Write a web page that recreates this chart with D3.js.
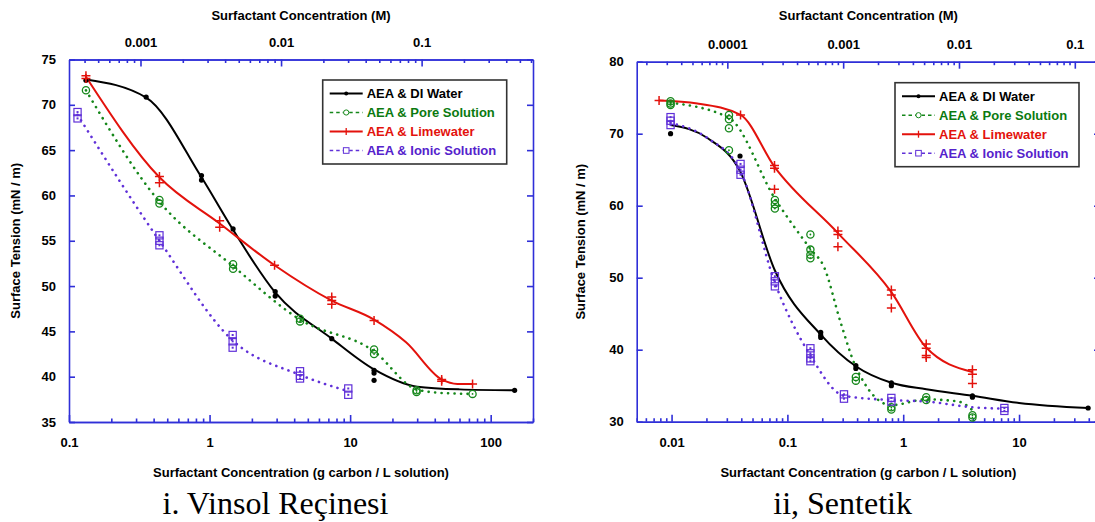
<!DOCTYPE html>
<html lang='tr'>
  <head>
    <meta charset='utf-8'>
    <title>Surface tension vs surfactant concentration</title>
    <script src='https://cdn.jsdelivr.net/npm/d3@7/dist/d3.min.js'></script>
    <style>
    body { margin: 0; background: #fff; overflow: hidden; }
    svg text { font-family: 'Liberation Sans', Arial, sans-serif; font-weight: bold; }
    .axis path, .axis line { fill: none; stroke: #2f2fd8; stroke-width: 1.6px; }
    .axis text { fill: #000; font-size: 13px; }
    .title { font-size: 13px; fill: #000; }
    .legend text { font-size: 13px; }
    .caption { font-family: 'Liberation Serif', 'Times New Roman', serif !important; font-weight: normal !important; font-size: 32px; fill: #000; }
    </style>
  </head>
  <body>
    <script>

    // legend names, shared by both panels
    var seriesNames = ['AEA & DI Water', 'AEA & Pore Solution', 'AEA & Limewater', 'AEA & Ionic Solution'];

    // ---- panel i : Vinsol resin, [g carbon / L, mN/m] ----
    var vinsolDI = [[0.132,72.7],[0.354,70.85],[0.876,62.2],[0.876,61.7],[1.47,56.3],[2.93,49.4],[2.93,48.9],
                    [7.4,44.2],[14.8,40.7],[14.8,40.4],[14.8,39.6],[148,38.5]];
    var vinsolDIFit = [[0.132,72.8],[0.354,70.8],[0.876,62.0],[1.47,56.2],[2.93,49.3],[7.4,44.2],[14.8,40.8],
                       [30,38.9],[60,38.6],[148,38.5]];
    var vinsolPore = [[0.132,71.6],[0.44,59.5],[0.44,59.1],[1.47,52.4],[1.47,51.9],[4.4,46.4],[4.4,46.1],
                      [14.8,43.0],[14.8,42.5],[29.7,38.5],[29.7,38.3],[74.3,38.1]];
    var vinsolPoreFit = [[0.132,71.6],[0.44,59.3],[1.47,52.2],[4.4,46.3],[14.8,42.8],[29.7,38.6],[45,38.2],[74.3,38.1]];
    var vinsolLime = [[0.132,73.2],[0.132,72.9],[0.44,62.1],[0.44,61.4],[1.18,57.2],[1.18,56.5],[2.9,52.3],
                      [7.4,48.8],[7.4,48.4],[7.4,48.0],[14.8,46.2],[44.8,39.7],[44.8,39.5],[74.3,39.2]];
    var vinsolLimeFit = [[0.132,73.1],[0.44,62.0],[1.18,56.9],[2.9,52.3],[7.4,48.4],[14.8,46.3],[25,43.8],
                         [44.8,39.7],[58,39.2],[74.3,39.2]];
    var vinsolIonic = [[0.115,69.2],[0.115,68.5],[0.44,55.6],[0.44,55.0],[0.44,54.5],[1.46,44.6],[1.46,43.9],
                       [1.46,43.2],[4.4,40.6],[4.4,40.1],[4.4,39.8],[9.7,38.7],[9.7,38.0]];
    var vinsolIonicFit = [[0.115,68.9],[0.44,55.0],[1.46,44.0],[4.4,40.2],[9.7,38.4]];

    // ---- panel ii : synthetic ----
    var synthDI = [[0.0098,70.0],[0.039,66.9],[0.194,42.4],[0.194,42.0],[0.194,41.7],[0.39,37.8],[0.39,37.4],
                   [0.79,35.4],[0.79,35.0],[3.96,33.6],[3.96,33.4],[39.5,31.9]];
    var synthDIFit = [[0.0098,71.2],[0.0204,69.4],[0.039,64.8],[0.078,51.0],[0.194,42.1],[0.39,37.7],
                      [0.79,35.4],[1.58,34.5],[3.96,33.6],[10,32.6],[39.5,31.9]];
    var synthPore = [[0.0098,74.5],[0.0098,74.2],[0.0098,74.0],[0.0313,72.6],[0.0313,72.0],[0.0313,70.75],
                     [0.0313,67.7],[0.078,60.8],[0.078,60.2],[0.078,59.6],[0.158,56.0],[0.158,53.9],[0.158,53.2],
                     [0.158,52.7],[0.39,36.2],[0.39,35.7],[0.79,32.0],[0.79,31.7],[1.58,33.4],[1.58,33.0],
                     [3.96,30.9],[3.96,30.6]];
    var synthPoreFit = [[0.0098,74.3],[0.0313,72.2],[0.078,61.0],[0.158,54.0],[0.207,51.5],[0.288,43.8],
                        [0.39,37.6],[0.79,32.3],[1.58,33.1],[3.0,32.8],[3.96,31.6]];
    var synthLime = [[0.0078,74.6],[0.0394,72.6],[0.0774,65.6],[0.0774,65.2],[0.0774,62.3],[0.273,56.5],
                     [0.273,56.0],[0.273,54.3],[0.79,48.3],[0.79,47.6],[0.79,45.8],[1.58,40.8],[1.58,40.2],
                     [1.58,39.2],[1.58,38.9],[3.96,37.2],[3.96,36.6],[3.96,35.3]];
    var synthLimeFit = [[0.0078,74.6],[0.0167,74.2],[0.0394,72.6],[0.0774,65.4],[0.273,56.2],[0.79,48.0],
                        [1.58,40.3],[3.96,36.9]];
    var synthIonic = [[0.0098,72.3],[0.0098,71.8],[0.0098,71.2],[0.0394,65.8],[0.0394,65.0],[0.0394,64.3],
                      [0.078,50.2],[0.078,49.5],[0.078,48.8],[0.158,40.2],[0.158,39.5],[0.158,38.8],[0.158,38.4],
                      [0.308,33.8],[0.308,33.2],[0.79,33.3],[0.79,32.8],[7.47,31.9],[7.47,31.5]];
    var synthIonicFit = [[0.0098,71.5],[0.0204,69.4],[0.0394,64.8],[0.078,49.3],[0.158,39.2],[0.308,33.6],
                         [0.79,33.0],[1.58,32.8],[4.0,32.0],[7.47,31.8]];

    // axis ticks and conversions g/L -> M
    var vinsolXMajor = [0.1, 1, 10, 100];
    var vinsolMMajor = [0.001, 0.01, 0.1];
    var vinsolYTicks = [35, 40, 45, 50, 55, 60, 65, 70, 75];
    var vinsolMolar = 0.0031;
    var synthXMajor = [0.01, 0.1, 1, 10];
    var synthMMajor = [0.0001, 0.001, 0.01, 0.1];
    var synthYTicks = [30, 40, 50, 60, 70, 80];
    var synthMolar = 0.0033;

    var styles = [
      {color: '#000000', text: '#000000', marker: 'dot', dash: null},
      {color: '#15871a', text: '#0b7a10', marker: 'circle', dash: 'dot'},
      {color: '#e3120c', text: '#e3120c', marker: 'plus', dash: null},
      {color: '#6030d8', text: '#5522cc', marker: 'square', dash: 'dot'}
    ];

    var w = 1095;
    var h = 522;
    var axisBlue = '#2f2fd8';

    var svg = d3.select('body')
                .append('svg')
                .attr('width', w)
                .attr('height', h);

    function isMajor(d){
      var l = Math.log10(d);
      return Math.abs(l - Math.round(l)) < 1e-6;
    }

    function marker(g, kind, cx, cy, color){
      if (kind === 'dot'){
        g.append('circle').attr('cx', cx).attr('cy', cy).attr('r', 2.6).attr('fill', color);
      } else if (kind === 'circle'){
        g.append('circle').attr('cx', cx).attr('cy', cy).attr('r', 3.6)
         .attr('fill', 'none').attr('stroke', color).attr('stroke-width', 1.3);
        g.append('circle').attr('cx', cx).attr('cy', cy).attr('r', 0.9).attr('fill', color);
      } else if (kind === 'plus'){
        g.append('path').attr('d', 'M' + (cx - 4.5) + ',' + cy + 'h9M' + cx + ',' + (cy - 4.5) + 'v9')
         .attr('stroke', color).attr('stroke-width', 1.5).attr('fill', 'none');
      } else {
        g.append('rect').attr('x', cx - 3.6).attr('y', cy - 3.6).attr('width', 7.2).attr('height', 7.2)
         .attr('fill', 'none').attr('stroke', color).attr('stroke-width', 1.2);
        g.append('rect').attr('x', cx - 1).attr('y', cy - 1).attr('width', 2).attr('height', 2)
         .attr('fill', color);
      }
    }

    function drawPanel(p){
      var g = svg.append('g');

      var x = d3.scaleLog().domain(p.xDomain).range([p.left, p.right]);
      var xm = d3.scaleLog().domain([p.xDomain[0] * p.molar, p.xDomain[1] * p.molar]).range([p.left, p.right]);
      var y = d3.scaleLinear().domain(p.yDomain).range([p.bottom, p.top]);

      var fmt = d3.format('~g');

      // bottom axis: minor then major
      g.append('g').attr('class', 'axis')
       .attr('transform', 'translate(0,' + p.bottom + ')')
       .call(d3.axisBottom(x).tickValues(x.ticks().filter(function(d){ return !isMajor(d); }))
               .tickSize(-3.5).tickSizeOuter(0).tickFormat(''));
      g.append('g').attr('class', 'axis')
       .attr('transform', 'translate(0,' + p.bottom + ')')
       .call(d3.axisBottom(x).tickValues(p.xMajor).tickSize(-7).tickSizeOuter(0)
               .tickPadding(16).tickFormat(fmt));

      // top axis in molar units
      g.append('g').attr('class', 'axis')
       .attr('transform', 'translate(0,' + p.top + ')')
       .call(d3.axisTop(xm).tickValues(xm.ticks().filter(function(d){ return !isMajor(d); }))
               .tickSize(-3.5).tickSizeOuter(0).tickFormat(''));
      g.append('g').attr('class', 'axis')
       .attr('transform', 'translate(0,' + p.top + ')')
       .call(d3.axisTop(xm).tickValues(p.mMajor).tickSize(-7).tickSizeOuter(0)
               .tickPadding(13).tickFormat(fmt));

      g.append('g').attr('class', 'axis')
       .attr('transform', 'translate(' + p.left + ',0)')
       .call(d3.axisLeft(y).tickValues(p.yTicks).tickSize(-6).tickSizeOuter(0).tickPadding(13));
      g.append('g').attr('class', 'axis')
       .attr('transform', 'translate(' + p.right + ',0)')
       .call(d3.axisRight(y).tickValues(p.yTicks).tickSize(-6).tickSizeOuter(0).tickFormat(''));

      // curves
      var line = d3.line()
                   .x(function(d){ return x(d[0]); })
                   .y(function(d){ return y(d[1]); })
                   .curve(d3.curveMonotoneX);

      p.series.forEach(function(s, i){
        var st = styles[i];
        var path = g.append('path')
                    .attr('d', line(s.fit))
                    .attr('fill', 'none')
                    .attr('stroke', st.color);
        if (st.dash){
          path.attr('stroke-width', 2.6).attr('stroke-dasharray', '0.1,6.4').attr('stroke-linecap', 'round');
        } else {
          path.attr('stroke-width', 2);
        }
      });

      p.series.forEach(function(s, i){
        var st = styles[i];
        var mg = g.append('g');
        s.pts.forEach(function(d){
          marker(mg, st.marker, x(d[0]), y(d[1]), st.color);
        });
      });

      // legend
      var lg = g.append('g').attr('class', 'legend');
      lg.append('rect')
        .attr('x', p.legend[0]).attr('y', p.legend[1])
        .attr('width', 184).attr('height', 84)
        .attr('fill', '#fff').attr('stroke', '#333').attr('stroke-width', 1.6);
      seriesNames.forEach(function(name, i){
        var st = styles[i];
        var ly = p.legend[1] + 13.5 + i * 19;
        var x0 = p.legend[0] + 7, x1 = p.legend[0] + 40;
        var ln = lg.append('line')
                   .attr('x1', x0).attr('x2', x1).attr('y1', ly).attr('y2', ly)
                   .attr('stroke', st.color).attr('stroke-width', 2);
        if (st.dash) ln.attr('stroke-dasharray', '3.5,3').attr('stroke-width', 1.6);
        var mx = (x0 + x1) / 2;
        if (st.marker === 'dot'){
          lg.append('circle').attr('cx', mx).attr('cy', ly).attr('r', 2).attr('fill', st.color);
        } else if (st.marker === 'circle'){
          lg.append('circle').attr('cx', mx).attr('cy', ly).attr('r', 2.6).attr('fill', '#fff')
            .attr('stroke', st.color).attr('stroke-width', 1);
        } else if (st.marker === 'plus'){
          lg.append('line').attr('x1', mx).attr('x2', mx).attr('y1', ly - 3.5).attr('y2', ly + 3.5)
            .attr('stroke', st.color).attr('stroke-width', 1.3);
        } else {
          lg.append('rect').attr('x', mx - 2.8).attr('y', ly - 2.8).attr('width', 5.6).attr('height', 5.6)
            .attr('fill', '#fff').attr('stroke', st.color).attr('stroke-width', 1);
        }
        lg.append('text')
          .attr('x', x1 + 4).attr('y', ly + 4.6)
          .attr('fill', st.text)
          .text(name);
      });

      // titles
      var cx = (p.left + p.right) / 2;
      g.append('text').attr('class', 'title')
       .attr('x', cx).attr('y', 20).attr('text-anchor', 'middle')
       .text('Surfactant Concentration (M)');
      g.append('text').attr('class', 'title')
       .attr('x', cx).attr('y', 477).attr('text-anchor', 'middle')
       .text('Surfactant Concentration (g carbon / L solution)');
      g.append('text').attr('class', 'title')
       .attr('transform', 'translate(' + p.yTitleX + ',' + ((p.top + p.bottom) / 2) + ') rotate(-90)')
       .attr('text-anchor', 'middle')
       .text('Surface Tension (mN / m)');
      g.append('text').attr('class', 'caption')
       .attr('x', p.captionX).attr('y', 514).attr('text-anchor', 'middle')
       .text(p.caption);
    }

    drawPanel({
      left: 69, right: 533, top: 59.5, bottom: 422,
      xDomain: [0.1, 200], yDomain: [35, 75], molar: vinsolMolar,
      xMajor: vinsolXMajor, mMajor: vinsolMMajor, yTicks: vinsolYTicks,
      series: [
        {pts: vinsolDI, fit: vinsolDIFit},
        {pts: vinsolPore, fit: vinsolPoreFit},
        {pts: vinsolLime, fit: vinsolLimeFit},
        {pts: vinsolIonic, fit: vinsolIonicFit}
      ],
      legend: [322.7, 80],
      yTitleX: 20, captionX: 275.5, caption: 'i. Vinsol Reçinesi'
    });

    drawPanel({
      left: 636.7, right: 1100, top: 61.7, bottom: 421.7,
      xDomain: [0.005, 50], yDomain: [30, 80], molar: synthMolar,
      xMajor: synthXMajor, mMajor: synthMMajor, yTicks: synthYTicks,
      series: [
        {pts: synthDI, fit: synthDIFit},
        {pts: synthPore, fit: synthPoreFit},
        {pts: synthLime, fit: synthLimeFit},
        {pts: synthIonic, fit: synthIonicFit}
      ],
      legend: [895, 82.7],
      yTitleX: 584.5, captionX: 842.6, caption: 'ii, Sentetik'
    });

    </script>
  </body>
</html>
